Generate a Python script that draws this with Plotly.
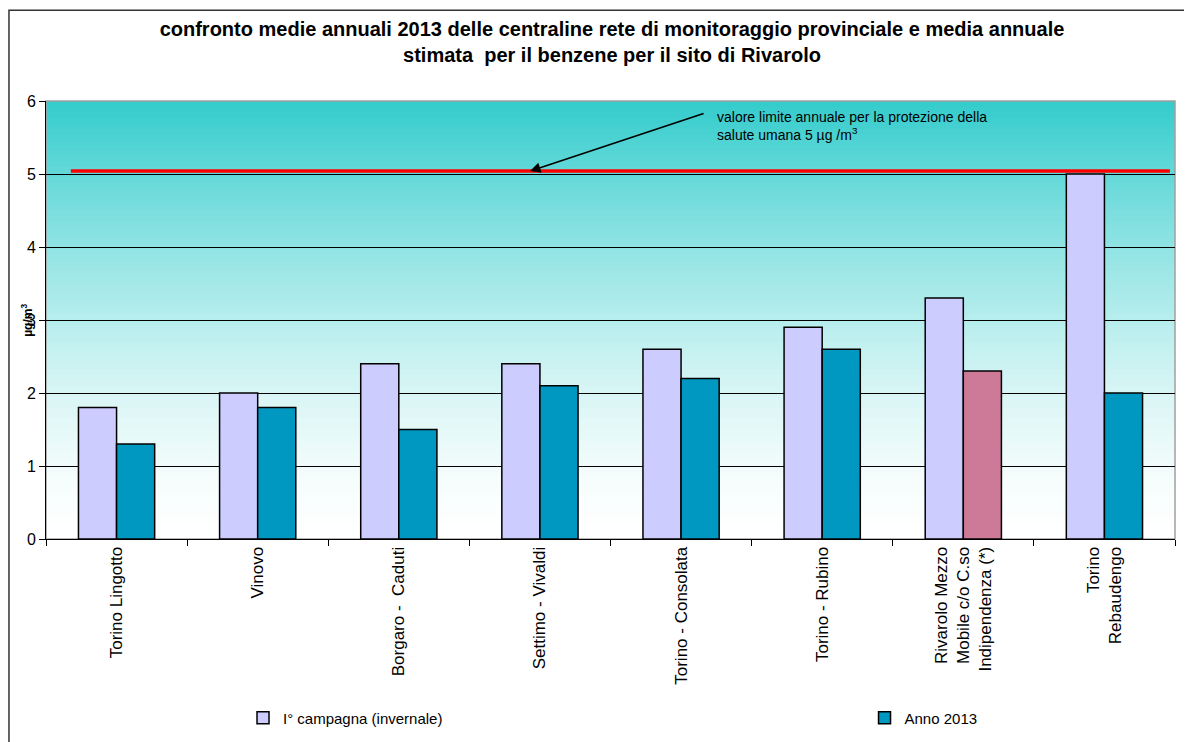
import plotly.graph_objects as go

categories = ["Torino Lingotto", "Vinovo", "Borgaro -  Caduti", "Settimo - Vivaldi",
              "Torino - Consolata", "Torino - Rubino",
              "Rivarolo Mezzo<br>Mobile c/o C.so<br>Indipendenza (*)", "Torino<br>Rebaudengo"]
campagna = [1.8, 2.0, 2.4, 2.4, 2.6, 2.9, 3.3, 5.0]
anno2013 = [1.3, 1.8, 1.5, 2.1, 2.2, 2.6, 2.3, 2.0]
limit_line = 5.04
y_ticks = [0, 1, 2, 3, 4, 5, 6]

FONT = "Liberation Sans, Arial, sans-serif"

anno_colors = ["#0098C0"] * len(categories)
anno_colors[6] = "#CC7A98"

fig = go.Figure()
fig.add_trace(go.Bar(
    x=categories, y=campagna, name="I° campagna (invernale)",
    marker=dict(color="#CCCCFF", line=dict(color="black", width=1.5)),
    legend="legend", showlegend=True))
fig.add_trace(go.Bar(
    x=categories, y=anno2013, name="Anno 2013",
    marker=dict(color=anno_colors, line=dict(color="black", width=1.5)),
    legend="legend2", showlegend=True))

# background gradient bands
shapes = []
n = 80
top = (0x33, 0xCC, 0xCC)
for i in range(n):
    t = ((i + 0.5) / n) ** 1.5
    c = tuple(round(255 + (top[k] - 255) * t) for k in range(3))
    shapes.append(dict(type="rect", xref="paper", yref="y", x0=0, x1=1,
                       y0=6 * i / n, y1=min(6, 6 * (i + 1) / n + 0.03), layer="below",
                       line=dict(width=0), fillcolor="rgb(%d,%d,%d)" % c))
# plot area outline (gray top/right)
shapes.append(dict(type="rect", xref="paper", yref="paper", x0=0, x1=1, y0=0, y1=1,
                   line=dict(color="#A0A0A0", width=1.5), layer="between"))
# limit line
shapes.append(dict(type="line", xref="paper", yref="y", x0=0.022, x1=0.9955,
                   y0=limit_line, y1=limit_line, line=dict(color="#FF0000", width=3.5),
                   layer="above"))
# outer chart border
shapes.append(dict(type="rect", xref="paper", yref="paper", x0=-0.0328, x1=1.1,
                   y0=-0.6, y1=1.2072, line=dict(color="#333333", width=1.5), layer="above"))

fig.update_layout(
    width=1184, height=734,
    margin=dict(l=38, r=17, t=93, b=203, autoexpand=False),
    showlegend=True,
    paper_bgcolor="white", plot_bgcolor="white",
    font=dict(family=FONT, size=14, color="black"),
    barmode="group", bargap=0.46, bargroupgap=0,
    shapes=shapes,
    title=dict(text="<b>confronto medie annuali 2013 delle centraline rete di monitoraggio provinciale e media annuale<br>stimata  per il benzene per il sito di Rivarolo</b>",
               x=(612 - 8) / 1184, xref="container", xanchor="center",
               y=1 - 28 / 734, yref="container", yanchor="top",
               font=dict(family=FONT, size=20, color="black")),
    xaxis=dict(type="category", tickangle=-90, tickson="boundaries", ticks="outside",
               ticklen=6, tickcolor="black", showline=True, linecolor="black", linewidth=1,
               tickfont=dict(family=FONT, size=17), showgrid=False, automargin=False),
    yaxis=dict(range=[0, 6], tickvals=y_ticks, ticks="outside", ticklen=6,
               tickcolor="black", showline=True, linecolor="black", linewidth=1,
               showgrid=True, gridcolor="black", gridwidth=1, zeroline=False,
               tickfont=dict(family=FONT, size=16), automargin=False),
    legend=dict(orientation="h", x=0.1745, y=1 - 710 / 734, yref="container",
                xanchor="left", yanchor="middle",
                font=dict(family=FONT, size=15), bgcolor="rgba(0,0,0,0)",
                itemwidth=30),
    legend2=dict(orientation="h", x=0.725, y=1 - 710 / 734, yref="container",
                 xanchor="left", yanchor="middle",
                 font=dict(family=FONT, size=15), bgcolor="rgba(0,0,0,0)",
                 itemwidth=30),
    annotations=[
        dict(text="<b>µg/m<sup>3</sup></b>", textangle=-90, xref="paper", yref="paper",
             x=-0.017, y=0.5, xanchor="center", yanchor="middle", showarrow=False,
             font=dict(family=FONT, size=12)),
        dict(text="valore limite annuale per la protezione della<br>salute umana 5 µg /m<sup>3</sup>",
             xref="paper", yref="paper", x=0.5926, y=0.987, xanchor="left", yanchor="top",
             align="left", showarrow=False, font=dict(family=FONT, size=14)),
        dict(text="", x=2.93, y=limit_line, xref="x", yref="y", ax=175, ay=-58,
             showarrow=True, arrowhead=2, arrowsize=1.3, arrowwidth=1.6, arrowcolor="black"),
    ],
)

fig.write_html("out.html")
